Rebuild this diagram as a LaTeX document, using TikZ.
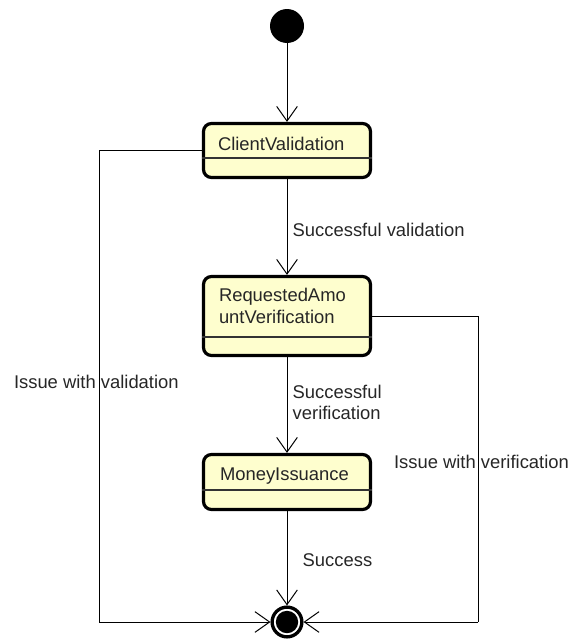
\documentclass[tikz,border=0pt]{standalone}
\usepackage{fontspec}
\setmainfont{Liberation Sans}
\usetikzlibrary{arrows.meta}
\definecolor{statefill}{HTML}{FEFECE}
\begin{document}
\begin{tikzpicture}[x=0.75pt,y=-0.75pt,
  txt/.style={font=\fontsize{13.8pt}{16.4pt}\selectfont, text=black!85, inner sep=0pt, outer sep=0pt},
  statebox/.style={draw=black, fill=statefill, line width=2.4pt, rounded corners=6pt,
    minimum width=125.25pt, inner sep=0pt},
  sepline/.style={draw=black!80, line width=1pt},
  arr/.style={line width=0.75pt, -{Straight Barb[length=11pt,width=15.5pt,line width=0.75pt]}},
  wire/.style={line width=0.75pt}]
\useasboundingbox (0,0) rectangle (568,639);

% initial and final pseudo-states
\node[circle, fill=black, minimum size=25.5pt, inner sep=0pt] (init) at (287,26) {};
\node[circle, draw=black, line width=2.5pt, minimum size=22.3pt, inner sep=0pt] (fin) at (287,622) {};
\fill[black] (fin.center) circle[radius=8.4pt];

% states
\node[statebox, minimum height=40.5pt] (cv) at (287,150.5) {};
\draw[sepline] ([yshift=-5.625pt]cv.west) -- ([yshift=-5.625pt]cv.east);
\node[txt, anchor=base west] (cvname) at (218,150) {ClientValidation};

\node[statebox, minimum height=59.25pt] (rav) at (287,316) {};
\draw[sepline] ([yshift=-15.75pt]rav.west) -- ([yshift=-15.75pt]rav.east);
\node[txt, anchor=north west, align=left] (ravname) at (219,288.5) {RequestedAmo\\untVerification};

\node[statebox, minimum height=41.25pt] (mi) at (287,482) {};
\draw[sepline] ([yshift=-6pt]mi.west) -- ([yshift=-6pt]mi.east);
\node[txt, anchor=base west] (miname) at (220,480) {MoneyIssuance};

% corners of the side connectors
\coordinate (lcorner) at (99,622);
\coordinate (rcorner) at (478,622);

% transitions
\draw[arr] (init) -- (cv.north);
\draw[arr] (cv.south) -- (rav.north);
\draw[arr] (rav.south) -- (mi.north);
\draw[arr] (mi.south) -- (fin.north);
\draw[wire] (cv.west) -| (lcorner);
\draw[arr] (lcorner) -- (fin.west);
\draw[wire] (rav.east) -| (rcorner);
\draw[arr] (rcorner) -- (fin.east);

% transition labels
\node[txt, anchor=base west] (lvalid) at (292.7,236.7) {Successful validation};
\node[txt, anchor=north west, align=left] (lverif) at (292.7,384.7) {Successful\\verification};
\node[txt, anchor=base west] (lsucc) at (302.7,566.7) {Success};
\node[txt, anchor=base west] (lissv) at (14,388) {Issue with validation};
\node[txt, anchor=base west] (lissr) at (394,468) {Issue with verification};
\end{tikzpicture}
\end{document}
